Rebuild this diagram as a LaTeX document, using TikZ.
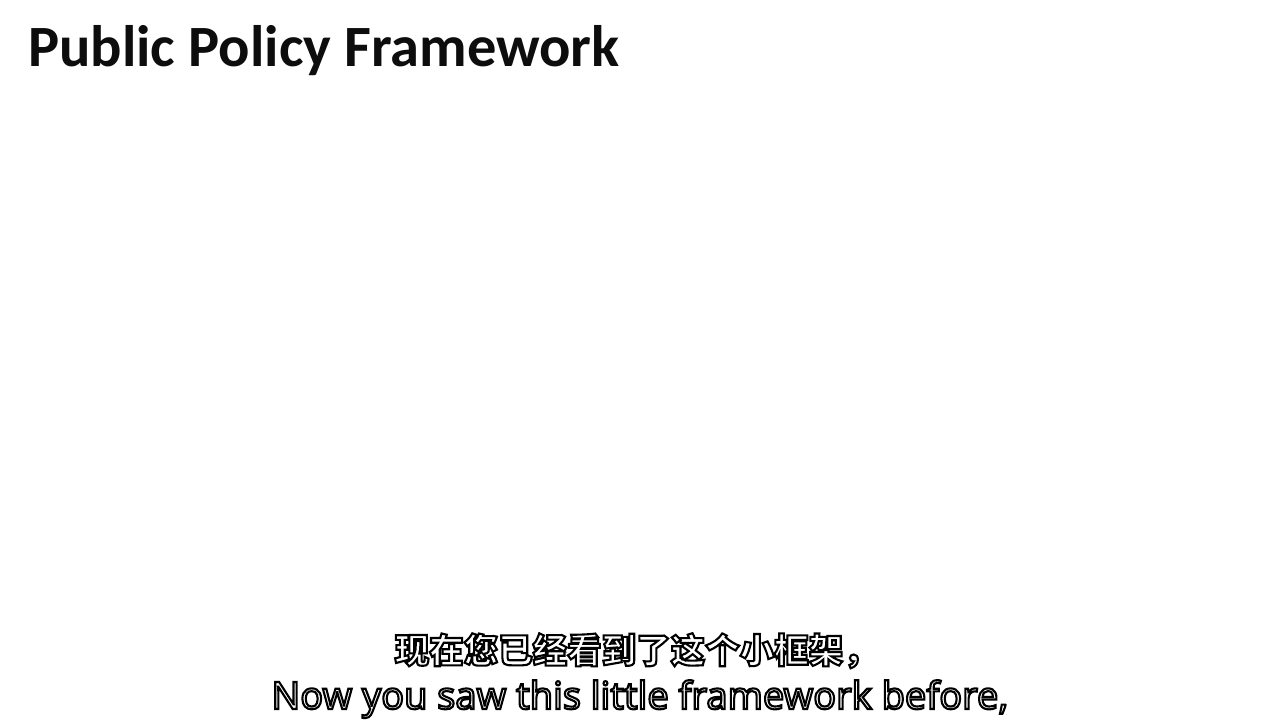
\documentclass[tikz,border=0pt]{standalone}
\usepackage{fontspec}
\setmainfont{Carlito}
\newfontfamily\cjk{Noto Sans CJK SC}
\newfontfamily\subfont{Noto Sans}
\newcommand\outlined[1]{\special{pdf:literal direct 2 Tr 0 G 2.1 w}#1\special{pdf:literal direct 0 Tr 1 w}}
\tikzset{
  titletext/.style={inner sep=0pt, anchor=base west, font=\fontsize{58.5}{64}\selectfont\bfseries, text=black!95},
  subcn/.style={inner sep=0pt, anchor=base west, text=white, font=\fontsize{34.5}{38}\selectfont\cjk\bfseries},
  suben/.style={inner sep=0pt, anchor=base, text=white, font=\fontsize{37.8}{41}\selectfont\subfont\bfseries},
}
\begin{document}
\begin{tikzpicture}[x=1pt,y=1pt]
\useasboundingbox[fill=white] (0,0) rectangle (1280,720);
\node[titletext] (title) at (28,653) {Public Policy Framework};
\node[subcn] (cn) at (394.5,57) {\outlined{现在您已经看到了这个小框架，}};
\node[suben] (en) at (640,11) {\outlined{Now you saw this little framework before,}};
\end{tikzpicture}
\end{document}
